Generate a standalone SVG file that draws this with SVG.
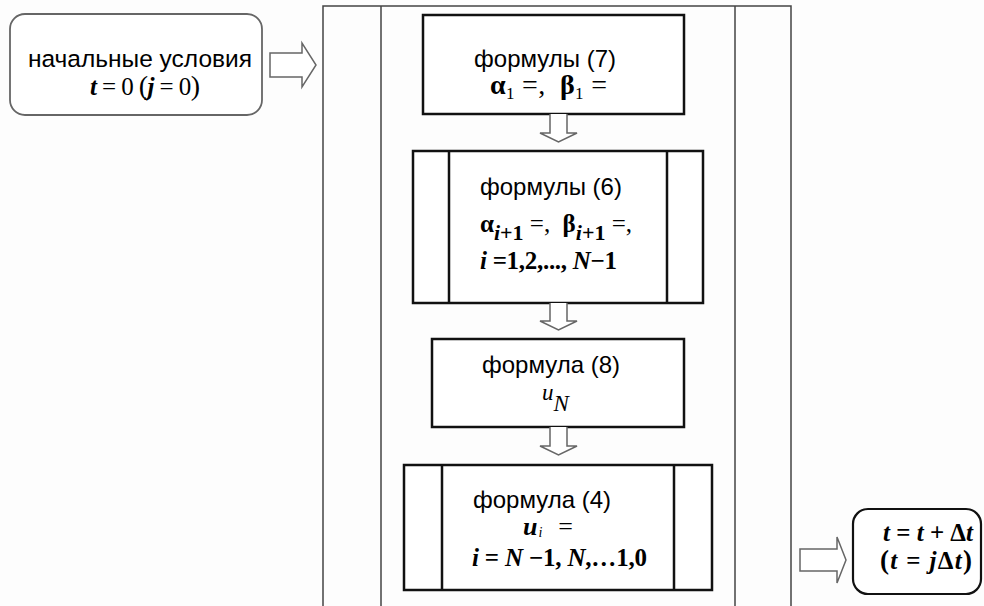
<svg xmlns="http://www.w3.org/2000/svg" width="984" height="606" viewBox="0 0 984 606">
<style>
.lbl{font-family:"Liberation Sans",Arial,sans-serif;font-size:24px;fill:#000}
.m{font-family:"Liberation Serif","Times New Roman",serif;font-size:25px;fill:#000}
.bi{font-weight:bold;font-style:italic}
.b{font-weight:bold}
.sub{font-size:17px}
.frame{fill:none;stroke:#444;stroke-width:1.5}
.box{fill:#fff;stroke:#111;stroke-width:2.5}
.arr{fill:#fff;stroke:#666;stroke-width:1.5;stroke-linejoin:miter}
</style>
<rect width="984" height="606" fill="#fdfdfd"/>
<g id="frame">
<path class="frame" d="M323,606 V6 H791 V606 M381,6 V606 M735,6 V606"/>
</g>
<g id="start">
<rect x="10" y="14" width="252" height="101" rx="15" fill="#fff" stroke="#666" stroke-width="1.8"/>
<text class="lbl" x="140" y="67" text-anchor="middle" style="font-size:24.5px">начальные условия</text>
<text class="m" x="90" y="95" textLength="110" lengthAdjust="spacing" xml:space="preserve"><tspan class="bi">t</tspan> = 0 <tspan style="font-size:28px">(</tspan><tspan class="bi">j</tspan> = 0<tspan style="font-size:28px">)</tspan></text>
</g>
<g id="f7">
<rect class="box" x="423" y="15" width="261" height="99"/>
<text class="lbl" x="545" y="67" text-anchor="middle">формулы (7)</text>
<text class="m" x="490" y="94" style="font-size:28px" textLength="117" lengthAdjust="spacing" xml:space="preserve"><tspan class="b">α</tspan><tspan class="sub" dy="5">1</tspan><tspan dy="-5"> =,  </tspan><tspan class="b">β</tspan><tspan class="sub" dy="5">1</tspan><tspan dy="-5"> =</tspan></text>
</g>
<g id="f6">
<rect class="box" x="413" y="151" width="290" height="152"/>
<path d="M449,151 V303 M667,151 V303" stroke="#111" stroke-width="2.5"/>
<text class="lbl" x="480" y="195">формулы (6)</text>
<text class="m" x="480" y="232" textLength="152" lengthAdjust="spacing" xml:space="preserve"><tspan class="b">α</tspan><tspan class="bi" font-size="22" dy="8">i</tspan><tspan class="b" font-size="22">+1</tspan><tspan dy="-8"> =,  </tspan><tspan class="b">β</tspan><tspan class="bi" font-size="22" dy="8">i</tspan><tspan class="b" font-size="22">+1</tspan><tspan dy="-8"> =,</tspan></text>
<text class="m b" x="480" y="269" textLength="137" lengthAdjust="spacing"><tspan class="bi">i</tspan> =1,2,..., <tspan class="bi">N</tspan>−1</text>
</g>
<g id="f8">
<rect class="box" x="432" y="339" width="252" height="88"/>
<text class="lbl" x="551" y="373" text-anchor="middle">формула (8)</text>
<text class="m" x="542" y="400" font-style="italic" style="font-size:23px">u<tspan dy="11">N</tspan></text>
</g>
<g id="f4">
<rect class="box" x="404" y="465" width="308" height="125"/>
<path d="M442,465 V590 M674,465 V590" stroke="#111" stroke-width="2.5"/>
<text class="lbl" x="473" y="508">формула (4)</text>
<text class="m" x="523" y="535" style="font-size:26px" textLength="50" lengthAdjust="spacing" xml:space="preserve"><tspan class="bi">u</tspan><tspan font-style="italic" font-size="14" dy="2">i</tspan><tspan dy="-2">  =</tspan></text>
<text class="m b" x="472" y="566" textLength="175" lengthAdjust="spacing" xml:space="preserve"><tspan class="bi">i</tspan> = <tspan class="bi">N</tspan> −1, <tspan class="bi">N</tspan>,…1,0</text>
</g>
<g id="step">
<rect x="853" y="509" width="128" height="85" rx="15" fill="#fff" stroke="#111" stroke-width="2.2"/>
<text class="m b" x="883" y="541" textLength="90" lengthAdjust="spacing"><tspan class="bi">t</tspan> = <tspan class="bi">t</tspan> + Δ<tspan class="bi">t</tspan></text>
<text class="m b" x="880" y="569" textLength="92" lengthAdjust="spacing" xml:space="preserve"><tspan style="font-size:27px">(</tspan><tspan class="bi">t</tspan> = <tspan class="bi">j</tspan>Δ<tspan class="bi">t</tspan><tspan style="font-size:27px">)</tspan></text>
</g>
<g id="connectors">
<path class="arr" d="M270,53 H302 V43 L316,65 L302,87 V77 H270 Z"/>
<path class="arr" d="M550,114 V133 H540 L558.5,142 L577,133 H567 V114"/>
<path class="arr" d="M550,303 V321 H540 L558.5,330 L577,321 H567 V303"/>
<path class="arr" d="M550,427 V446 H540 L558.5,455 L577,446 H567 V427"/>
<path class="arr" d="M800,549 H837 V537 L846,560 L837,583 V571 H800 Z"/>
</g>
</svg>
